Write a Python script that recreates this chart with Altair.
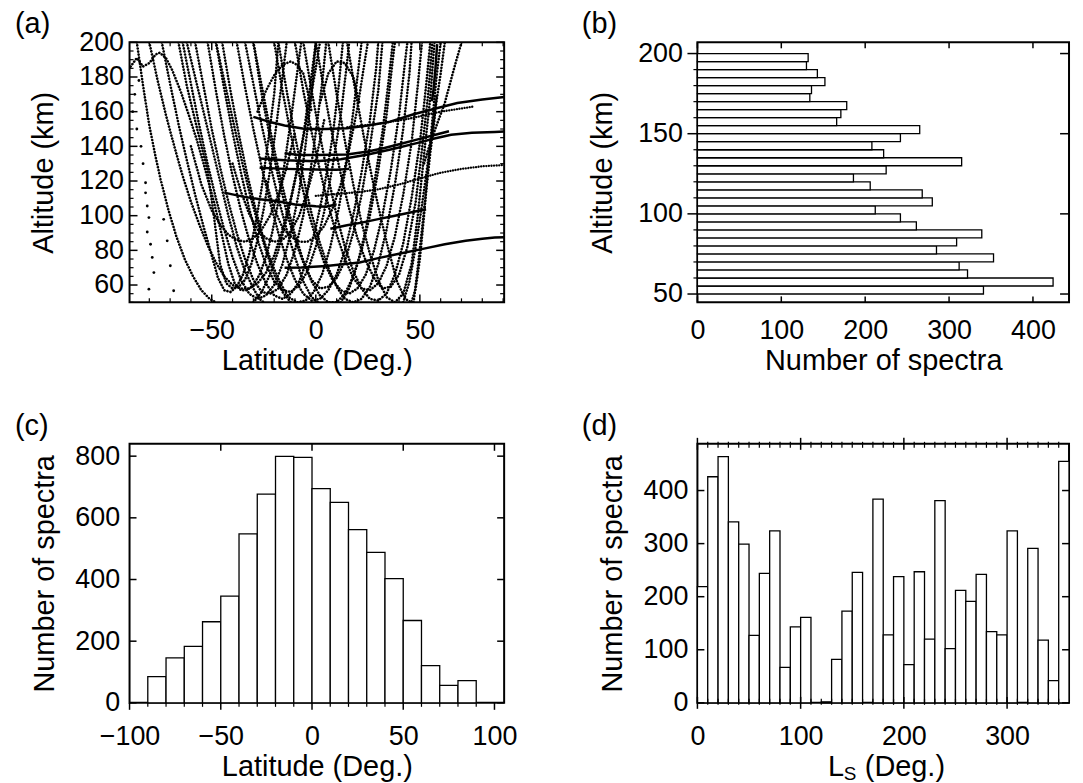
import altair as alt
import pandas as pd

FONT = "Liberation Sans"
LABEL_SIZE = 27
TITLE_SIZE = 29
PANEL_SIZE = 29

# ---------------- panel (a): orbit tracks (lat deg, alt km)
U1 = [(-89,186),(-86,191),(-83,186),(-80,188),(-77,193),(-75,194),(-72,191),(-69,184),(-65,172),(-61,158),(-57,143),(-53,126),(-49,108),(-45,88),(-42,72),(-39,61),(-36,57),(-33,57),(-30,60),(-27,66),(-24,76),(-21,90),(-18,108),(-15,130),(-12,155),(-9,182),(-7,200)]
U2 = [(-80,200),(-76,178),(-72,158),(-68,140),(-64,123),(-60,108),(-56,95),(-52,83),(-48,73),(-44,65),(-40,60),(-36,58),(-32,58),(-28,61),(-24,67),(-20,77),(-16,92),(-12,110),(-8,132),(-4,158),(0,185),(2,200)]
U3 = [(-66,200),(-62,175),(-57,150),(-52,126),(-49,100),(-46,72),(-43,61),(-40,58),(-37,59),(-34,63),(-31,72),(-28,86),(-25,104),(-22,126),(-19,152),(-16,180),(-14,200)]
U4 = [(-60,140),(-55,118),(-50,103),(-46,95),(-42,89),(-38,86),(-34,85),(-30,87),(-26,92),(-22,100),(-18,112),(-14,128),(-10,148)]
U5 = [(-58,200),(-54,175),(-50,150),(-46,128),(-42,108),(-38,90),(-34,75),(-30,63),(-26,56),(-22,55),(-18,58),(-14,66),(-10,80),(-6,100),(-3,122),(0,148),(3,176),(5,200)]
U6 = [(-52,200),(-48,172),(-44,146),(-40,123),(-36,103),(-32,86),(-28,72),(-24,61),(-20,54),(-16,52),(-12,55),(-8,62),(-4,75),(0,93),(4,116),(8,145),(11,175),(13,200)]
U7 = [(-45,200),(-41,172),(-37,147),(-33,124),(-29,104),(-25,86),(-21,72),(-17,61),(-13,53),(-9,50),(-5,51),(-1,56),(3,66),(7,82),(11,104),(15,132),(18,160),(21,190),(22,200)]
U8 = [(-24,120),(-20,104),(-16,93),(-12,88),(-8,85),(-4,85),(0,88),(4,94),(8,104),(12,118),(16,138),(20,162),(23,185),(25,200)]
U9 = [(-38,200),(-34,174),(-30,150),(-26,128),(-22,108),(-18,90),(-14,75),(-10,63),(-6,55),(-2,51),(2,52),(6,57),(10,66),(14,80),(18,100),(22,125),(26,155),(29,185),(30,200)]
U10 = [(-30,200),(-26,175),(-22,150),(-18,127),(-14,107),(-10,89),(-6,74),(-2,62),(2,54),(6,50),(10,50),(14,55),(18,65),(22,80),(26,100),(30,126),(34,158),(37,190),(38,200)]
U11 = [(-18,200),(-14,172),(-10,146),(-6,122),(-2,101),(2,84),(6,70),(10,59),(14,52),(18,50),(22,52),(26,59),(30,72),(34,92),(38,118),(42,150),(45,182),(46,200)]
U12 = [(-6,200),(-2,172),(2,146),(6,122),(10,100),(14,82),(18,68),(22,58),(26,52),(30,51),(34,55),(38,66),(42,84),(46,110),(50,142),(53,175),(55,200)]
U13 = [(6,200),(10,170),(14,143),(18,118),(22,96),(26,78),(30,63),(34,53),(38,50),(42,55),(46,72),(49,100),(52,135),(55,168),(57,200)]
U14 = [(15,200),(19,172),(23,146),(27,122),(31,100),(35,80),(39,62),(43,52),(46,50),(48,58),(50,75),(52,100),(54,128),(56,155),(58,180),(60,200)]
U15 = [(-74,200),(-70,176),(-66,153),(-62,132),(-58,112),(-54,94),(-50,77),(-47,64),(-44,57),(-41,56),(-38,59),(-35,66),(-32,78),(-29,95),(-26,116),(-23,142),(-20,170),(-18,200)]
U16 = [(-64,200),(-60,176),(-56,152),(-52,130),(-48,110),(-44,92),(-40,76),(-36,63),(-32,55),(-28,52),(-24,54),(-20,60),(-16,72),(-12,90),(-8,114),(-5,140),(-2,170),(0,200)]
U17 = [(-48,200),(-44,173),(-40,148),(-36,125),(-32,104),(-28,86),(-24,72),(-20,62),(-16,57),(-12,56),(-8,60),(-4,68),(0,82),(4,102),(8,128),(12,158),(15,188),(16,200)]
U18 = [(-30,200),(-26,170),(-22,145),(-18,122),(-14,102),(-10,86),(-6,73),(-2,63),(2,58),(6,59),(10,64),(14,74),(18,90),(22,112),(26,140),(30,172),(32,200)]
U19 = [(-20,200),(-16,172),(-12,147),(-8,124),(-4,104),(0,87),(4,73),(8,63),(12,57),(16,55),(20,58),(24,66),(28,80),(32,100),(36,126),(40,158),(43,190),(44,200)]
U20 = [(-10,200),(-6,172),(-2,148),(2,126),(6,106),(10,89),(14,75),(18,64),(22,58),(26,57),(30,61),(34,71),(38,88),(42,112),(46,142),(49,175),(51,200)]
U21 = [(0,200),(4,172),(8,146),(12,124),(16,104),(20,87),(24,74),(28,64),(32,58),(36,59),(40,66),(44,82),(48,108),(51,138),(54,170),(56,200)]
U22 = [(-40,130),(-36,114),(-32,101),(-28,92),(-24,87),(-20,85),(-16,86),(-12,91),(-8,100),(-4,114),(0,132),(4,155)]
LL1 = [(-62,200),(-58,180),(-54,160),(-50,140),(-46,120),(-42,100),(-38,82),(-34,68),(-30,58),(-27,52),(-25,50)]
LL2 = [(-48,200),(-44,178),(-40,156),(-36,134),(-32,114),(-28,96),(-24,80),(-20,66),(-16,56),(-12,50)]
LL3 = [(-34,200),(-30,176),(-26,152),(-22,130),(-18,110),(-14,92),(-10,76),(-6,62),(-2,53),(1,50)]
LL4 = [(-86,200),(-83,175),(-80,152),(-77,134),(-74.6,121),(-71,104),(-67,88),(-63,75),(-59,65),(-55,57),(-51,52),(-48,50)]
RL1 = [(-30,50),(-26,56),(-22,66),(-18,80),(-14,98),(-10,120),(-6,146),(-3,172),(0,200)]
RL2 = [(12,50),(16,58),(20,72),(24,92),(28,118),(32,148),(35,178),(37,200)]
RL3 = [(42,50),(45,62),(48,82),(51,106),(54,132),(57,158),(60,182),(62,200)]
RL4 = [(47,50),(49,70),(51,92),(53,114),(55,136),(57,155),(58,170)]
RL5 = [(70,200),(66,183),(62,165),(58,152),(55,142),(52,130)]
ARC1 = [(-28,160),(-24,172),(-20,181),(-16,187),(-12,189),(-9,187),(-6,182),(-4,172),(-2,160)]
ARC2 = [(2,165),(6,182),(10,189),(14,188),(18,180),(21,165)]

# dense (solid-looking) tracks
H150 = [(-30,157),(-22,154),(-15,152),(-5,150),(5,150),(15,150.5),(25,152),(35,154),(47,158.5),(58,162),(68,165),(80,167),(90.5,168.5)]
L135 = [(-15,136),(-8,135),(0,135),(15,135.3),(25,137),(33,139),(41,141.5),(49,144),(57,146.5),(64,148.7)]
L131 = [(-27,133),(-15,132),(0,131.4),(12,132.5),(25,135.3),(37,138.5),(49,142),(57,144.5),(65,146.7),(75,147.8),(86,148.3),(90.5,148.5)]
L127 = [(-27,127.6),(-15,127),(0,126.6),(10,126.5),(16,127)]
H107 = [(-44,113.3),(-35,111),(-27,109.5),(-19,108.5),(-10,106.5),(0,105.4),(5,105.2),(10,106.6)]
L95 = [(7,92.5),(15,94.5),(22,96),(30,98),(38,100),(46,102),(53,103.7)]
L70 = [(-15,70),(-7,70.1),(5,71),(13,72),(21,73),(30,75.5),(40,78),(52,81),(62,83.5),(72,85.5),(80,86.7),(86,87.4),(90.5,87.6)]
V57 = [(58.3,199),(57.5,185),(56.5,172),(55.8,166)]

# finely dotted tracks
H1B = [(15,151),(30,153),(45,156),(60,160),(76,163)]
D129 = [(0,111.4),(10,112.5),(20,113.5),(30,115.2),(40,118),(50,121.5),(60,124.8),(70,127),(80,128.5),(90.5,129.2)]

# isolated points on the far left
SPARSE_LAT = [-81.8,-81.8,-81.0,-80.2,-81.0,-79.4,-78.6,-77.8,-80.2,-69.9,-68.3,-71.4,-73.1,-86,-84,-83,-87,-85,-88]
SPARSE_ALT = [119,113.2,105.6,98.9,90.6,83.5,75.9,67.2,57.6,71.1,56.7,85.5,97.9,150,140,130,170,178,160]

# ---------------- panel (b): altitude histogram (5 km bins)
B_ALT_LO = [50,55,60,65,70,75,80,85,90,95,100,105,110,115,120,125,130,135,140,145,150,155,160,165,170,175,180,185,190,195]
B_COUNTS = [341,424,322,312,353,285,309,339,261,242,212,280,268,206,186,225,315,222,208,242,265,166,171,178,134,136,152,143,130,132]

# ---------------- panel (c): latitude histogram (10 deg bins)
C_LAT_LO = [-90,-80,-70,-60,-50,-40,-30,-20,-10,0,10,20,30,40,50,60,70,80]
C_COUNTS = [85,146,183,263,346,548,677,799,796,695,650,562,488,403,267,121,57,72]

# ---------------- panel (d): Ls histogram (10 deg bins)
D_LS_LO = [0,10,20,30,40,50,60,70,80,90,100,110,120,130,140,150,160,170,180,190,200,210,220,230,240,250,260,270,280,290,300,310,320,330,340,350]
D_COUNTS = [219,426,464,341,299,127,244,324,67,143,161,0,2,82,173,246,0,384,128,238,72,247,120,381,102,212,191,242,134,128,324,0,291,118,42,455]


def tracks_frame(named):
    rows = []
    for name, pts in named:
        for i, (la, al) in enumerate(pts):
            rows.append({"track": name, "i": i, "x": la, "y": al})
    return pd.DataFrame(rows)


def tick_layer(ch, values, enc, side, W, H, inn, out, sw=1.5):
    df = pd.DataFrame({ch: values})
    m = alt.Chart(df).mark_rule(color="black", strokeWidth=sw)
    if side == "bottom":
        return m.encode(x=enc, y=alt.value(H + out), y2=alt.value(H - inn))
    if side == "top":
        return m.encode(x=enc, y=alt.value(-out), y2=alt.value(inn))
    if side == "left":
        return m.encode(y=enc, x=alt.value(-out), x2=alt.value(inn))
    return m.encode(y=enc, x=alt.value(W + out), x2=alt.value(W - inn))


def free_text(text, dx, dy, size):
    return alt.Chart(pd.DataFrame({"t": [text]})).mark_text(
        align="left", baseline="alphabetic", font=FONT, fontSize=size, color="black"
    ).encode(x=alt.value(dx), y=alt.value(dy), text="t:N")


def build_panel(data_layers, xenc, yenc, W, H, ticks, extra=()):
    layers = list(data_layers)
    for ch, vals, side, inn, out, sw in ticks:
        enc = xenc if ch == "x" else yenc
        layers.append(tick_layer(ch, vals, enc, side, W, H, inn, out, sw))
    layers.extend(extra)
    return alt.layer(*layers).properties(width=W, height=H)


# ===== panel (a)
WA, HA = 376, 261
xa = alt.X("x:Q", scale=alt.Scale(domain=[-89.5, 90.5], nice=False, zero=False),
           axis=alt.Axis(values=[-50, 0, 50], title="Latitude (Deg.)", labelPadding=15,
                         titleY=67, titleBaseline="alphabetic"))
ya = alt.Y("y:Q", scale=alt.Scale(domain=[50, 200], nice=False, zero=False),
           axis=alt.Axis(values=[60, 80, 100, 120, 140, 160, 180, 200], title="Altitude (km)",
                         labelPadding=6, titleX=-77, titleBaseline="alphabetic"))

dotted = tracks_frame([("U1", U1), ("U2", U2), ("U3", U3), ("U4", U4), ("U5", U5), ("U6", U6),
                       ("U7", U7), ("U8", U8), ("U9", U9), ("U10", U10), ("U11", U11), ("U12", U12),
                       ("U13", U13), ("U14", U14), ("U15", U15), ("U16", U16), ("U17", U17),
                       ("U18", U18), ("U19", U19), ("U20", U20), ("U21", U21), ("U22", U22),
                       ("LL1", LL1), ("LL2", LL2), ("LL3", LL3), ("LL4", LL4),
                       ("RL1", RL1), ("RL2", RL2), ("RL3", RL3), ("RL4", RL4), ("RL5", RL5),
                       ("ARC1", ARC1), ("ARC2", ARC2)])
solid = tracks_frame([("H150", H150), ("L135", L135), ("L131", L131), ("L127", L127),
                      ("H107", H107), ("L95", L95), ("L70", L70), ("V57", V57)])
fine = tracks_frame([("H1B", H1B), ("D129", D129)])
sparse = pd.DataFrame({"x": SPARSE_LAT, "y": SPARSE_ALT})

a_layers = [
    alt.Chart(dotted).mark_line(color="black", strokeWidth=2.6, strokeDash=[0.1, 3.0],
                                strokeCap="round", clip=True)
       .encode(x=xa, y=ya, detail="track:N", order="i:Q"),
    alt.Chart(fine).mark_line(color="black", strokeWidth=2.3, strokeDash=[0.1, 2.5],
                              strokeCap="round", clip=True)
       .encode(x=xa, y=ya, detail="track:N", order="i:Q"),
    alt.Chart(solid).mark_line(color="black", strokeWidth=2.5, clip=True)
       .encode(x=xa, y=ya, detail="track:N", order="i:Q"),
    alt.Chart(sparse).mark_circle(color="black", size=8, opacity=1).encode(x=xa, y=ya),
]
a_xmin = [v for v in range(-80, 91, 10) if v not in (-50, 0, 50)]
a_ymin = [v for v in range(50, 201, 5) if v % 20 != 0]
a_ymaj = [60, 80, 100, 120, 140, 160, 180, 200]
panel_a = build_panel(a_layers, xa, ya, WA, HA, [
    ("x", [-50, 0, 50], "bottom", 8, 0, 1.5), ("x", a_xmin, "bottom", 4, 0, 1.2),
    ("x", [-50, 0, 50], "top", 8, 0, 1.5), ("x", a_xmin, "top", 4, 0, 1.2),
    ("y", a_ymaj, "left", 8, 0, 1.5), ("y", a_ymin, "left", 4, 0, 1.2),
    ("y", a_ymaj, "right", 8, 0, 1.5), ("y", a_ymin, "right", 4, 0, 1.2),
], extra=[free_text("(a)", -115, -9, PANEL_SIZE)])

# ===== panel (b)
WB, HB = 373, 261
xb = alt.X("x:Q", scale=alt.Scale(domain=[0, 443], nice=False, zero=False),
           axis=alt.Axis(values=[0, 100, 200, 300, 400], title="Number of spectra", labelPadding=15,
                         titleY=67, titleBaseline="alphabetic"))
yb = alt.Y("y:Q", scale=alt.Scale(domain=[44.8, 207], nice=False, zero=False),
           axis=alt.Axis(values=[50, 100, 150, 200], title="Altitude (km)", labelPadding=15,
                         titleX=-86, titleBaseline="alphabetic"))
bdf = pd.DataFrame({"y": B_ALT_LO, "count": B_COUNTS})
bdf["y2"] = bdf["y"] + 5
bdf["x"] = 0
bdf["x2"] = bdf["count"]
b_layers = [alt.Chart(bdf).mark_rect(fill="white", stroke="black", strokeWidth=1.3)
            .encode(x=xb, x2="x2:Q", y=yb, y2="y2:Q")]
b_xmaj = [0, 100, 200, 300, 400]
b_ymin = [60, 70, 80, 90, 110, 120, 130, 140, 160, 170, 180, 190]
panel_b = build_panel(b_layers, xb, yb, WB, HB, [
    ("x", b_xmaj, "bottom", 6, 0, 1.5), ("x", b_xmaj, "top", 6, 0, 1.5),
    ("y", [50, 100, 150, 200], "left", 0, 10, 1.5), ("y", b_ymin, "left", 0, 4, 1.2),
    ("y", [50, 100, 150, 200], "right", 9, 0, 1.5),
], extra=[free_text("(b)", -116, -9, PANEL_SIZE)])

# ===== panel (c)
WC, HC = 376, 260
xc = alt.X("x:Q", scale=alt.Scale(domain=[-100, 105.3], nice=False, zero=False),
           axis=alt.Axis(values=[-100, -50, 0, 50, 100], title="Latitude (Deg.)", labelPadding=21,
                         titleY=73, titleBaseline="alphabetic"))
yc = alt.Y("y:Q", scale=alt.Scale(domain=[0, 840], nice=False, zero=False),
           axis=alt.Axis(values=[0, 200, 400, 600, 800], title="Number of spectra", labelPadding=10,
                         titleX=-76, titleBaseline="alphabetic"))
cdf = pd.DataFrame({"x": C_LAT_LO, "count": C_COUNTS})
cdf["x2"] = cdf["x"] + 10
cdf["y"] = 0
cdf["y2"] = cdf["count"]
c_layers = [alt.Chart(cdf).mark_rect(fill="white", stroke="black", strokeWidth=1.3)
            .encode(x=xc, x2="x2:Q", y=yc, y2="y2:Q")]
c_xmaj = [-100, -50, 0, 50, 100]
c_xmin = [v for v in range(-90, 91, 10) if v % 50 != 0]
c_ymaj = [0, 200, 400, 600, 800]
panel_c = build_panel(c_layers, xc, yc, WC, HC, [
    ("x", c_xmaj, "bottom", 0, 7, 1.5), ("x", c_xmin, "bottom", 0, 4, 1.2),
    ("x", [-50, 0, 50, 100], "top", 7, 0, 1.5),
    ("y", c_ymaj, "left", 7, 0, 1.5), ("y", c_ymaj, "right", 7, 0, 1.5),
], extra=[free_text("(c)", -115, -9, PANEL_SIZE)])

# ===== panel (d)
WD, HD = 373, 260
xd = alt.X("x:Q", scale=alt.Scale(domain=[0, 360], nice=False, zero=False),
           axis=alt.Axis(values=[0, 100, 200, 300], title=None, labelPadding=21))
yd = alt.Y("y:Q", scale=alt.Scale(domain=[0, 488], nice=False, zero=False),
           axis=alt.Axis(values=[0, 100, 200, 300, 400], title="Number of spectra", labelPadding=9.5,
                         titleX=-76, titleBaseline="alphabetic"))
ddf = pd.DataFrame({"x": D_LS_LO, "count": D_COUNTS})
ddf = ddf[ddf["count"] > 0].copy()
ddf["x2"] = ddf["x"] + 10
ddf["y"] = 0
ddf["y2"] = ddf["count"]
d_layers = [alt.Chart(ddf).mark_rect(fill="white", stroke="black", strokeWidth=1.3)
            .encode(x=xd, x2="x2:Q", y=yd, y2="y2:Q")]
d_xmaj = [0, 100, 200, 300]
d_xmin = [v for v in range(10, 360, 10) if v % 100 != 0]
d_ymaj = [0, 100, 200, 300, 400]

d_title = [free_text("L", 131, HD + 73, TITLE_SIZE),
           free_text("S", 147, HD + 77, 19),
           free_text("(Deg.)", 168, HD + 73, TITLE_SIZE)]
panel_d = build_panel(d_layers, xd, yd, WD, HD, [
    ("x", d_xmaj, "bottom", 6, 6, 1.5), ("x", d_xmin, "bottom", 4, 2, 1.2),
    ("x", d_xmaj, "top", 6, 6, 1.5), ("x", d_xmin, "top", 4, 2, 1.2),
    ("y", d_ymaj, "left", 7, 0, 1.5), ("y", d_ymaj, "right", 7, 0, 1.5),
], extra=[free_text("(d)", -116, -9, PANEL_SIZE)] + d_title)

chart = alt.concat(panel_a, panel_b, panel_c, panel_d, columns=2,
                   spacing={"row": 142, "column": 194}, bounds="flush").configure(
    padding={"left": 6, "top": 0, "right": 4, "bottom": 0},
    background="white",
    font=FONT,
).configure_view(stroke="black", strokeWidth=2).configure_axis(
    grid=False, domain=False, ticks=False, tickSize=0,
    labelFont=FONT, labelFontSize=LABEL_SIZE, labelColor="black",
    titleFont=FONT, titleFontSize=TITLE_SIZE, titleColor="black", titleFontWeight="normal",
    labelOverlap=False, labelFlush=False,
)

chart.save("out.html", embed_options={"renderer": "svg", "actions": False})
